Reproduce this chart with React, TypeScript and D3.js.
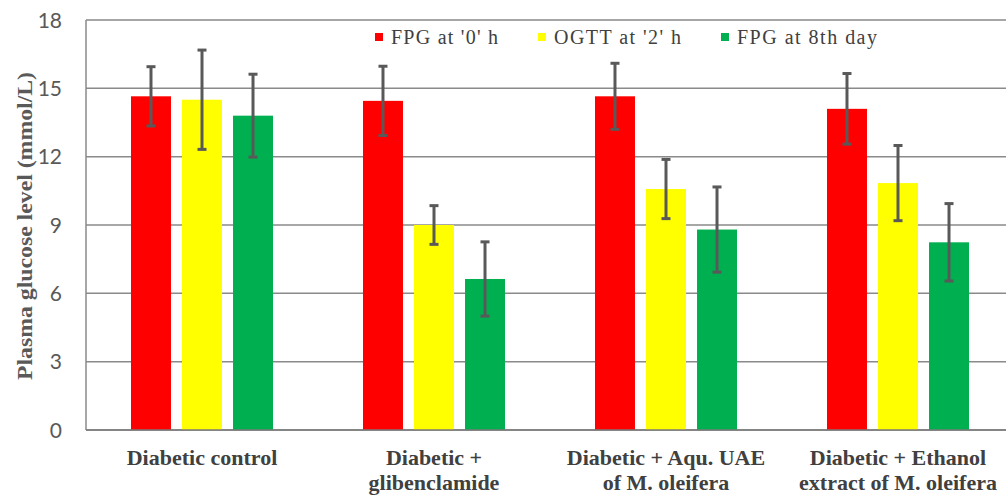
import React from "react";
import * as d3 from "d3";

const categories: string[][] = [
  ["Diabetic control"],
  ["Diabetic +", "glibenclamide"],
  ["Diabetic + Aqu. UAE", "of M. oleifera"],
  ["Diabetic + Ethanol", "extract of M. oleifera"],
];
const seriesNames = ["FPG at '0' h", "OGTT at '2' h", "FPG at 8th day"];
const seriesColors = ["#ff0000", "#ffff00", "#00b050"];
const fpg0 = [14.65, 14.45, 14.65, 14.1];
const ogtt2 = [14.5, 9.0, 10.58, 10.84];
const fpg8 = [13.8, 6.63, 8.8, 8.24];
const fpg0Err = [1.3, 1.52, 1.45, 1.55];
const ogtt2Err = [2.18, 0.85, 1.3, 1.65];
const fpg8Err = [1.82, 1.63, 1.87, 1.7];
const yTicks = [0, 3, 6, 9, 12, 15, 18];

const W = 1006;
const H = 495;
const left = 86;
const top = 20;
const bottom = 430;
const legendX = [375, 538, 721];
const legendW = [107, 127, 140];

export default function App() {
  const values = [fpg0, ogtt2, fpg8];
  const errs = [fpg0Err, ogtt2Err, fpg8Err];
  const y = d3.scaleLinear().domain([0, 18]).range([bottom, top]);
  const x0 = d3
    .scaleBand<number>()
    .domain(d3.range(categories.length))
    .range([left, left + 232 * 4])
    .padding(0);
  const x1 = d3
    .scaleBand<number>()
    .domain(d3.range(3))
    .range([0, x0.bandwidth()])
    .paddingInner(0.216)
    .paddingOuter(0.882);
  const grid = "#8a8a8a";
  const errColor = "#595959";
  return (
    <svg
      width={W}
      height={H}
      style={{ position: "absolute", left: 0, top: 0, background: "#fff" }}
    >
      {yTicks.map((t) => (
        <line
          key={"g" + t}
          x1={left}
          x2={W}
          y1={y(t)}
          y2={y(t)}
          stroke={grid}
          strokeWidth={1.5}
        />
      ))}
      <line x1={left} x2={left} y1={top} y2={bottom} stroke={grid} strokeWidth={1.5} />
      {yTicks.map((t) => (
        <text
          key={"t" + t}
          x={62}
          y={y(t)}
          dy="0.36em"
          textAnchor="end"
          fontFamily="Lato, 'Open Sans', sans-serif"
          fontSize={21}
          fill="#595959"
        >
          {t}
        </text>
      ))}
      <text
        transform={`translate(32,226) rotate(-90)`}
        textAnchor="middle"
        fontFamily="'Liberation Serif', serif"
        fontWeight="bold"
        fontSize={20}
        fill="#595959"
        textLength={308}
        lengthAdjust="spacingAndGlyphs"
      >
        Plasma glucose level (mmol/L)
      </text>
      {categories.map((cat, i) => (
        <g key={"c" + i}>
          {values.map((vals, s) => {
            const bx = (x0(i) as number) + (x1(s) as number);
            const bw = x1.bandwidth();
            const cx = bx + bw / 2;
            const v = vals[i];
            const e = errs[s][i];
            return (
              <g key={"b" + s}>
                <rect
                  x={bx}
                  y={y(v)}
                  width={bw}
                  height={y(0) - y(v)}
                  fill={seriesColors[s]}
                />
                <line x1={cx} x2={cx} y1={y(v + e)} y2={y(v - e)} stroke={errColor} strokeWidth={3} />
                <line x1={cx - 4.5} x2={cx + 4.5} y1={y(v + e)} y2={y(v + e)} stroke={errColor} strokeWidth={3} />
                <line x1={cx - 4.5} x2={cx + 4.5} y1={y(v - e)} y2={y(v - e)} stroke={errColor} strokeWidth={3} />
              </g>
            );
          })}
          {cat.map((line, k) => (
            <text
              key={"l" + k}
              x={(x0(i) as number) + x0.bandwidth() / 2}
              y={465 + k * 25}
              textAnchor="middle"
              fontFamily="'Liberation Serif', serif"
              fontWeight="bold"
              fontSize={22}
              fill="#404040"
            >
              {line}
            </text>
          ))}
        </g>
      ))}
      <line x1={left} x2={W} y1={bottom} y2={bottom} stroke="#7a7a7a" strokeWidth={1.5} />
      {seriesNames.map((n, s) => (
        <g key={"lg" + s}>
          <rect x={legendX[s]} y={33} width={8} height={8} fill={seriesColors[s]} />
          <text
            x={legendX[s] + 16}
            y={44}
            fontFamily="'Liberation Serif', serif"
            fontSize={20}
            fill="#404040"
            textLength={legendW[s]}
            lengthAdjust="spacing"
          >
            {n}
          </text>
        </g>
      ))}
    </svg>
  );
}
